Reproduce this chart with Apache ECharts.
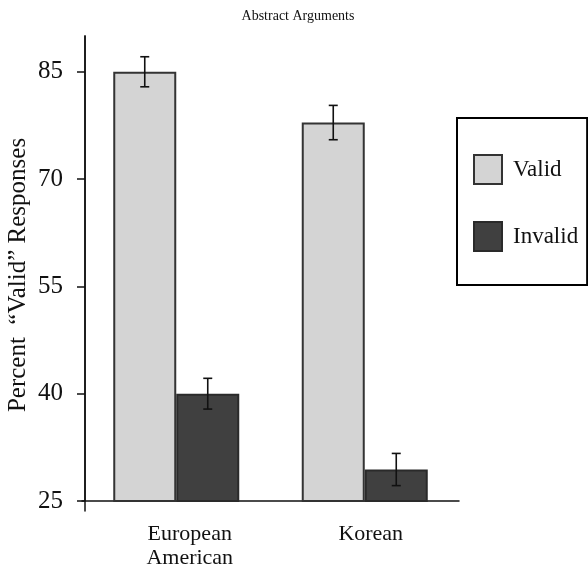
<!DOCTYPE html>
<html>
<head>
<meta charset="utf-8">
<script src="https://cdn.jsdelivr.net/npm/echarts@6/dist/echarts.min.js"></script>
<style>html,body{margin:0;padding:0;background:#fff;}#c{width:588px;height:567px;}</style>
</head>
<body>
<div id="c"></div>
<script>
var categories = ['European\nAmerican', 'Korean'];
var seriesNames = ['Valid', 'Invalid'];
var validValues = [85.0, 77.9];
var invalidValues = [40.0, 29.4];
var validErr = [2.1, 2.4];
var invalidErr = [2.15, 2.25];
var yTicks = [25, 40, 55, 70, 85];
var yMin = 25, yMax = 90;

var FONT = '"Liberation Serif", "DejaVu Serif", serif';
var BAR_W = 63;
var labelShift = [27, 12];

function errSeries(values, errs, offsetSign) {
  var data = values.map(function (v, i) { return [i, v, v - errs[i], v + errs[i]]; });
  return {
    type: 'custom',
    silent: true,
    z: 10,
    data: data,
    encode: { x: 0, y: [1, 2, 3] },
    renderItem: function (params, api) {
      var i = api.value(0);
      var lo = api.coord([i, api.value(2)]);
      var hi = api.coord([i, api.value(3)]);
      var x = lo[0] + offsetSign * BAR_W / 2;
      var cap = 4.5;
      var st = { stroke: '#111', lineWidth: 1.6 };
      return {
        type: 'group',
        children: [
          { type: 'line', shape: { x1: x, y1: lo[1], x2: x, y2: hi[1] }, style: st },
          { type: 'line', shape: { x1: x - cap, y1: lo[1], x2: x + cap, y2: lo[1] }, style: st },
          { type: 'line', shape: { x1: x - cap, y1: hi[1], x2: x + cap, y2: hi[1] }, style: st }
        ]
      };
    }
  };
}

var catData = categories.map(function (c, i) {
  return { value: c, textStyle: { padding: [0, 0, 0, labelShift[i]] } };
});

var chart = echarts.init(document.getElementById('c'), null, { renderer: 'canvas' });
chart.setOption({
  animation: false,
  backgroundColor: '#fff',
  title: {
    text: 'Abstract Arguments',
    left: 293, top: 4, textAlign: 'center',
    textStyle: { fontFamily: FONT, fontSize: 14, fontWeight: 'normal', color: '#111' }
  },
  legend: {
    data: seriesNames,
    orient: 'vertical',
    left: 457, top: 118,
    itemWidth: 28, itemHeight: 29, itemGap: 36,
    padding: [36, 9, 33, 16],
    borderColor: '#000', borderWidth: 2,
    icon: 'rect',
    textStyle: { fontFamily: FONT, fontSize: 23, color: '#111', padding: [0, 0, 0, 6] }
  },
  grid: [
    { left: 82, right: 129, top: 36, bottom: 66, containLabel: false, outerBoundsMode: 'none' },
    { left: 85, width: 10, top: 36, bottom: 56, containLabel: false, outerBoundsMode: 'none' }
  ],
  xAxis: [
    {
      type: 'category',
      gridIndex: 0,
      data: catData,
      boundaryGap: true,
      axisLine: { show: true, lineStyle: { color: '#111', width: 1.5 } },
      axisTick: { show: false },
      axisLabel: { fontFamily: FONT, fontSize: 22, color: '#111', lineHeight: 24, margin: 21 }
    },
    { type: 'value', gridIndex: 1, show: false }
  ],
  yAxis: [
    {
      type: 'value',
      gridIndex: 0,
      min: yMin, max: yMax,
      offset: -3,
      name: 'Percent  \u201cValid\u201d Responses',
      nameLocation: 'middle',
      nameGap: 54,
      nameMoveOverlap: false,
      nameRotate: 90,
      nameTextStyle: { fontFamily: FONT, fontSize: 25, color: '#111', padding: [0, 13, 0, 0] },
      axisLine: { show: true, lineStyle: { color: '#111', width: 1.5 } },
      axisTick: { show: true, length: 8, customValues: yTicks, lineStyle: { color: '#111', width: 1.5 } },
      axisLabel: { customValues: yTicks, fontFamily: FONT, fontSize: 25, color: '#111', margin: 22 },
      splitLine: { show: false }
    },
    {
      type: 'value',
      gridIndex: 1,
      min: 0, max: 1,
      axisLine: { show: true, lineStyle: { color: '#111', width: 1.5 } },
      axisTick: { show: false },
      axisLabel: { show: false },
      splitLine: { show: false }
    }
  ],
  series: [
    {
      name: seriesNames[0], type: 'bar', data: validValues,
      barWidth: BAR_W, barGap: '0%',
      itemStyle: { color: '#d4d4d4', borderColor: '#333', borderWidth: 2 }
    },
    {
      name: seriesNames[1], type: 'bar', data: invalidValues,
      barWidth: BAR_W, barGap: '0%',
      itemStyle: { color: '#404040', borderColor: '#2a2a2a', borderWidth: 2 }
    },
    errSeries(validValues, validErr, -1),
    errSeries(invalidValues, invalidErr, 1)
  ]
});
</script>
</body>
</html>
